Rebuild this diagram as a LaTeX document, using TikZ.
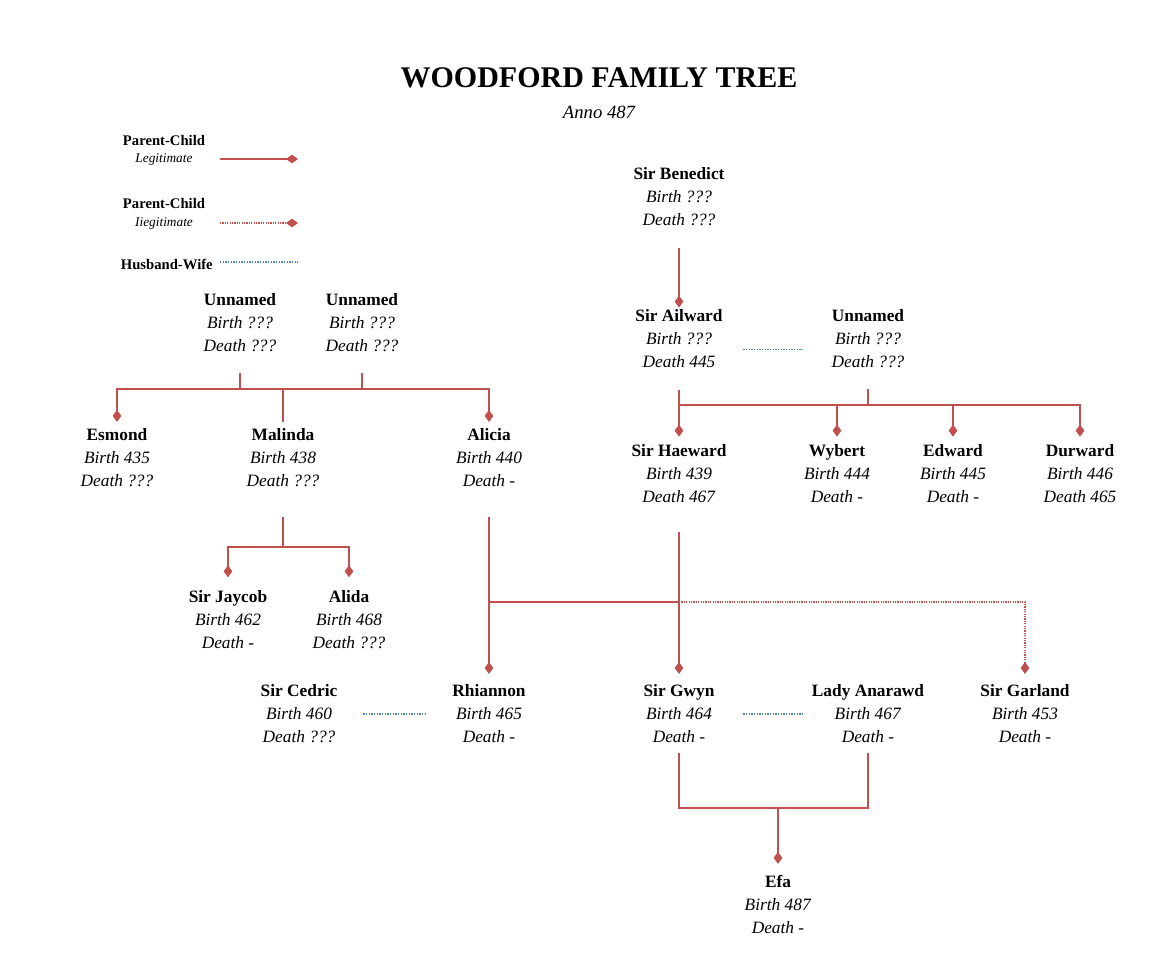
\documentclass[tikz,border=0pt]{standalone}
\usepackage{fontspec}
\setmainfont{Liberation Serif}
\usepackage{tikz}
\usetikzlibrary{arrows.meta}
\definecolor{kinred}{RGB}{192,80,77}
\definecolor{wedblue}{RGB}{79,129,189}
\newcommand{\who}[3]{\textbf{#1}\\\textit{Birth #2}\\\textit{Death #3}}

\begin{document}
\begin{tikzpicture}[x=0.75pt,y=-0.75pt,>={Diamond[length=9pt,width=6.5pt]},
  person/.style={align=center,inner sep=0pt,minimum width=96pt,font=\fontsize{13}{17.25}\selectfont},
  legbold/.style={inner sep=0pt,font=\bfseries\fontsize{11}{13}\selectfont},
  legital/.style={inner sep=0pt,font=\itshape\fontsize{10}{12}\selectfont},
  pc/.style={draw=kinred,line width=1.4pt},
  child/.style={pc,->,shorten >=#1}, child/.default=6pt,
  illchild/.style={child=#1,dash pattern=on 0.9pt off 0.9pt}, illchild/.default=6pt,
  wed/.style={draw=wedblue,line width=1pt,dash pattern=on 1pt off 1pt}]
  \useasboundingbox (0,0) rectangle (1154,980);

  % title
  \node[font=\bfseries\fontsize{22.5}{27}\selectfont] (title) at (599,78) {WOODFORD FAMILY TREE};
  \node[font=\itshape\fontsize{14}{17}\selectfont] (anno) at (599,112) {Anno 487};

  % legend
  \node[legbold] (lgA) at (164,140) {Parent-Child};
  \node[legital] (lgAsub) at (164,160) {Legitimate};
  \node[legbold] (lgB) at (164,203) {Parent-Child};
  \node[legital] (lgBsub) at (164,224) {Iiegitimate};
  \node[legbold,anchor=east] (lgC) at (213,264) {Husband-Wife};
  \coordinate (lgAs) at (220,159); \coordinate (lgAe) at (298,159);
  \coordinate (lgBs) at (220,223); \coordinate (lgBe) at (298,223);
  \coordinate (lgCs) at (220,262); \coordinate (lgCe) at (298,262);
  \draw[child=0pt] (lgAs) -- (lgAe);
  \draw[illchild=0pt] (lgBs) -- (lgBe);
  \draw[wed] (lgCs) -- (lgCe);

  % people
  \node[person] (benedict) at (679,197) {\who{Sir Benedict}{???}{???}};
  \node[person] (ailward) at (679,339) {\who{Sir Ailward}{???}{445}};
  \node[person] (unB) at (868,339) {\who{Unnamed}{???}{???}};
  \node[person] (unA1) at (240,323) {\who{Unnamed}{???}{???}};
  \node[person] (unA2) at (362,323) {\who{Unnamed}{???}{???}};
  \node[person] (esmond) at (117,458) {\who{Esmond}{435}{???}};
  \node[person] (malinda) at (283,458) {\who{Malinda}{438}{???}};
  \node[person] (alicia) at (489,458) {\who{Alicia}{440}{-}};
  \node[person] (haeward) at (679,474) {\who{Sir Haeward}{439}{467}};
  \node[person] (wybert) at (837,474) {\who{Wybert}{444}{-}};
  \node[person] (edward) at (953,474) {\who{Edward}{445}{-}};
  \node[person] (durward) at (1080,474) {\who{Durward}{446}{465}};
  \node[person] (jaycob) at (228,620) {\who{Sir Jaycob}{462}{-}};
  \node[person] (alida) at (349,620) {\who{Alida}{468}{???}};
  \node[person] (cedric) at (299,714) {\who{Sir Cedric}{460}{???}};
  \node[person] (rhiannon) at (489,714) {\who{Rhiannon}{465}{-}};
  \node[person] (gwyn) at (679,714) {\who{Sir Gwyn}{464}{-}};
  \node[person] (anarawd) at (868,714) {\who{Lady Anarawd}{467}{-}};
  \node[person] (garland) at (1025,714) {\who{Sir Garland}{453}{-}};
  \node[person] (efa) at (778,904) {\who{Efa}{487}{-}};

  % marriages
  \draw[wed] ([yshift=-8pt]ailward.east) -- ([yshift=-8pt]unB.west);
  \draw[wed] (cedric.east) -- (rhiannon.west);
  \draw[wed] (gwyn.east) -- (anarawd.west);

  % Sir Benedict line
  \draw[child=1.5pt,shorten <=16pt] (benedict.south) -- (ailward.north);

  % Unnamed + Unnamed
  \coordinate (famA) at (283,389);
  \draw[pc,shorten <=15.5pt] (unA1.south) -- (unA1.south |- famA);
  \draw[pc,shorten <=15.5pt] (unA2.south) -- (unA2.south |- famA);
  \draw[child=5pt] (famA) -| (esmond.north);
  \draw[child=5pt] (famA) -| (alicia.north);
  \draw[pc,shorten >=5pt] (famA) -- (malinda.north);

  % Sir Ailward + Unnamed
  \coordinate (famB) at (868,405);
  \draw[pc,shorten <=16pt] (ailward.south) -- (ailward.south |- famB);
  \draw[pc,shorten <=15.5pt] (unB.south) -- (famB);
  \draw[child] (famB) -| (haeward.north);
  \draw[child] (famB) -| (wybert.north);
  \draw[child] (famB) -| (edward.north);
  \draw[child] (famB) -| (durward.north);

  % Malinda
  \coordinate (famC) at (283,547);
  \draw[pc,shorten <=22.5pt] (malinda.south) -- (famC);
  \draw[child=10pt] (famC) -| (jaycob.north);
  \draw[child=10pt] (famC) -| (alida.north);

  % Alicia + Sir Haeward
  \coordinate (famD) at (679,602);
  \draw[child=8pt,shorten <=22.5pt] (alicia.south) -- (rhiannon.north);
  \draw[child=8pt,shorten <=21.5pt] (haeward.south) -- (gwyn.north);
  \draw[pc] (famD) -- (famD -| alicia.south);
  \draw[illchild=8pt] (famD) -| (garland.north);

  % Sir Gwyn + Lady Anarawd
  \coordinate (famE) at (778,808);
  \draw[pc,shorten <=7pt] (gwyn.south) |- (famE);
  \draw[pc,shorten <=7pt] (anarawd.south) |- (famE);
  \draw[child=8pt] (famE) -- (efa.north);
\end{tikzpicture}
\end{document}
